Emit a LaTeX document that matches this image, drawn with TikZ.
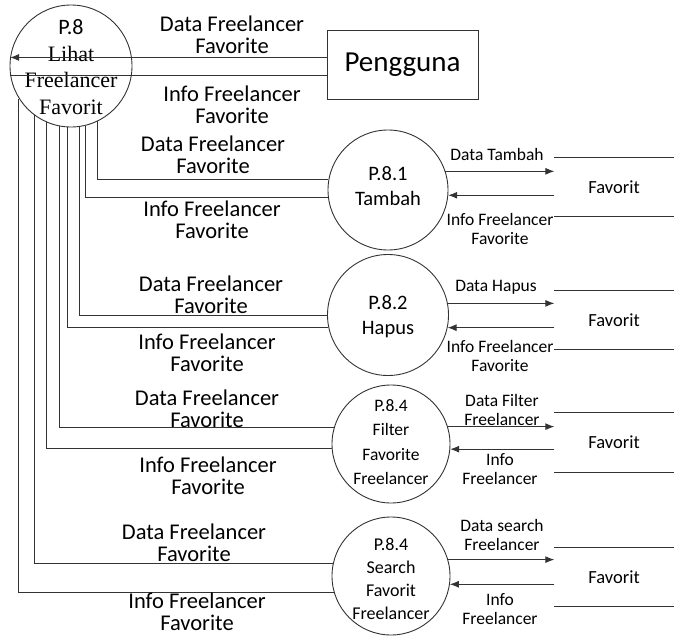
\documentclass[tikz,border=0pt]{standalone}
\usepackage{fontspec}
\setmainfont{Carlito}
\newfontfamily\timesfont{Liberation Serif}
\usetikzlibrary{arrows.meta}
\begin{document}
\begin{tikzpicture}[x=1pt,y=-1pt,
  line/.style={draw=black!80, line width=0.9pt},
  flow/.style={line, -{Latex[length=9pt,width=7pt]}},
  proc/.style={circle, draw=black!80, line width=0.9pt, minimum size=120pt,
    inner sep=0pt},
  ptext/.style={align=center, inner sep=0pt, font=\fontsize{20.5}{25}\selectfont},
  lbl/.style={align=center, inner sep=0pt, font=\fontsize{22.5}{22}\selectfont},
  slbl/.style={align=center, inner sep=0pt, font=\fontsize{17.5}{19}\selectfont},
  store/.style={minimum width=119pt, minimum height=59pt, inner sep=0pt,
    font=\fontsize{18.5}{20}\selectfont},
]
\useasboundingbox (0,0) rectangle (683,637);

% processes and external entity
\node[proc, minimum size=122pt] (p8) at (71,66) {};
\node[ptext, font=\fontsize{22}{26.5}\selectfont] (p8t) at (71,67)
  {P.8\\\timesfont Lihat\\\timesfont Freelancer\\\timesfont Favorit};
\node[draw=black!80, line width=0.9pt, minimum width=151pt, minimum height=69pt,
  inner sep=0pt, font=\fontsize{29}{30}\selectfont] (user) at (402.5,64.5) {Pengguna};

\node[proc] (p81) at (388,190) {};
\node[ptext] (p81t) at (388,186) {P.8.1\\Tambah};
\node[proc, minimum size=121pt] (p82) at (388,315) {};
\node[ptext] (p82t) at (388,317) {P.8.2\\Hapus};
\node[proc, minimum size=118pt] (p83) at (391,444) {};
\node[ptext, font=\fontsize{17.5}{24.5}\selectfont] (p83t) at (391,442)
  {P.8.4\\Filter\\Favorite\\Freelancer};
\node[proc, minimum size=118pt] (p84) at (391,576) {};
\node[ptext, font=\fontsize{18}{23}\selectfont] (p84t) at (391,579)
  {P.8.4\\Search\\Favorit\\Freelancer};

% data stores
\node[store] (s1) at (614,187) {Favorit};
\node[store] (s2) at (614,320) {Favorit};
\node[store] (s3) at (614,442.5) {Favorit};
\node[store] (s4) at (614,577) {Favorit};
\foreach \s in {s1,s2,s3,s4}{
  \draw[line] (\s.north west) -- (\s.north east);
  \draw[line] (\s.south west) -- (\s.south east);
}

% Pengguna <-> P.8
\draw[flow] (p8.172 -| user.west) -- (p8.172);
\draw[line] (p8.189) -- (p8.189 -| user.west);
\node[lbl] (t1) at (232,35) {Data Freelancer\\Favorite};
\node[lbl] (t2) at (232,105) {Info Freelancer\\Favorite};

% P.8 <-> sub processes
\draw[line] (p8.296) |- (p81.170);
\draw[line] (p8.284) |- (p81.187);
\draw[line] (p8.278) |- (p82.180);
\draw[line] (p8.267) |- (p82.192);
\draw[line] (p8.259) |- (p83.164);
\draw[line] (p8.246) |- (p83.184);
\draw[line] (p8.233) |- (p84.168);
\draw[line] (p8.212) |- (p84.196);

\node[lbl] (a1) at (213,155) {Data Freelancer\\Favorite};
\node[lbl] (a2) at (212,220) {Info Freelancer\\Favorite};
\node[lbl] (b1) at (211,295) {Data Freelancer\\Favorite};
\node[lbl] (b2) at (207,353) {Info Freelancer\\Favorite};
\node[lbl] (c1) at (207,409) {Data Freelancer\\Favorite};
\node[lbl] (c2) at (208,476) {Info Freelancer\\Favorite};
\node[lbl] (d1) at (194,543) {Data Freelancer\\Favorite};
\node[lbl] (d2) at (197,612) {Info Freelancer\\Favorite};

% sub processes <-> stores
\draw[flow] (p81.18) -- (p81.18 -| s1.west);
\draw[flow] (p81.355 -| s1.west) -- (p81.355);
\draw[flow] (p82.11) -- (p82.11 -| s2.west);
\draw[flow] (p82.348 -| s2.west) -- (p82.348);
\draw[flow] (p83.17) -- (p83.17 -| s3.west);
\draw[flow] (p83.355 -| s3.west) -- (p83.355);
\draw[flow] (p84.16) -- (p84.16 -| s4.west);
\draw[flow] (p84.352 -| s4.west) -- (p84.352);

\node[slbl] (e1) at (497,154) {Data Tambah};
\node[slbl] (e2) at (500,229) {Info Freelancer\\Favorite};
\node[slbl] (f1) at (496,287) {Data Hapus};
\node[slbl] (f2) at (500,356) {Info Freelancer\\Favorite};
\node[slbl] (g1) at (502,410) {Data Filter\\Freelancer};
\node[slbl] (g2) at (500,469) {Info\\Freelancer};
\node[slbl] (h1) at (502,535) {Data search\\Freelancer};
\node[slbl] (h2) at (500,609) {Info\\Freelancer};
\end{tikzpicture}
\end{document}
